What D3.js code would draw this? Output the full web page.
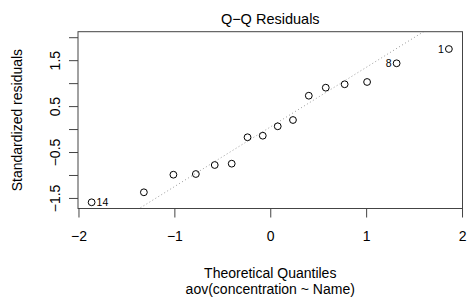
<!DOCTYPE html>
<html>
<head>
<meta charset="utf-8">
<script src="https://cdn.jsdelivr.net/npm/d3@7"></script>
<style>
  html, body { margin: 0; padding: 0; background: #fff; }
  svg { display: block; }
  text { font-family: "Liberation Sans", Arial, Helvetica, sans-serif; fill: #000; }
</style>
</head>
<body>
<script>
// ---- data ----
const theoreticalQuantiles = [-1.863, -1.318, -1.010, -0.776, -0.579, -0.402, -0.237, -0.078,
                               0.078, 0.237, 0.402, 0.579, 0.776, 1.010, 1.318, 1.863];
const standardizedResiduals = [-1.595, -1.377, -0.994, -0.979, -0.783, -0.754, -0.179, -0.145,
                               0.060, 0.197, 0.726, 0.901, 0.975, 1.025, 1.432, 1.743];
const pointLabels = ["14", "", "", "", "", "", "", "", "", "", "", "", "", "", "8", "1"];
const xTicks = [-2, -1, 0, 1, 2];
const xTickLabels = ["\u22122", "\u22121", "0", "1", "2"];
const yTicks = [-1.5, -1, -0.5, 0, 0.5, 1, 1.5, 2];
const yTickLabels = ["\u22121.5", "", "\u22120.5", "", "0.5", "", "1.5", ""];
const titleText = "Q\u2212Q Residuals";
const xTitle = "Theoretical Quantiles";
const subTitle = "aov(concentration ~ Name)";
const yTitle = "Standardized residuals";

// ---- layout ----
const W = 467, H = 298;
const box = { left: 78, right: 462.5, top: 31.7, bottom: 208.5 };

const x = d3.scaleLinear().domain([-2.005, 2.005]).range([box.left, box.right]);
const y = d3.scaleLinear().domain([-1.73, 2.12]).range([box.bottom, box.top]);

const svg = d3.select("body").append("svg").attr("width", W).attr("height", H);

svg.append("defs").append("clipPath").attr("id", "clip")
  .append("rect").attr("x", box.left).attr("y", box.top)
  .attr("width", box.right - box.left).attr("height", box.bottom - box.top);

// qqline through quartiles (as R's qqline)
const sorted = standardizedResiduals.slice().sort(d3.ascending);
const yq1 = d3.quantile(sorted, 0.25), yq3 = d3.quantile(sorted, 0.75);
const zq = 0.6744898;
const slope = (yq3 - yq1) / (2 * zq);
const intercept = yq1 + slope * zq;
const lx0 = -2.5, lx1 = 2.5;
svg.append("line")
  .attr("clip-path", "url(#clip)")
  .attr("x1", x(lx0)).attr("y1", y(intercept + slope * lx0))
  .attr("x2", x(lx1)).attr("y2", y(intercept + slope * lx1))
  .attr("stroke", "#9a9a9a").attr("stroke-width", 1)
  .attr("stroke-dasharray", "1,2.5");

// box
svg.append("rect")
  .attr("x", box.left).attr("y", box.top)
  .attr("width", box.right - box.left).attr("height", box.bottom - box.top)
  .attr("fill", "none").attr("stroke", "#444").attr("stroke-width", 1);

// points
const pts = theoreticalQuantiles.map((q, i) => ({ q, r: standardizedResiduals[i], lab: pointLabels[i] }));
svg.append("g").selectAll("circle").data(pts).join("circle")
  .attr("cx", d => x(d.q)).attr("cy", d => y(d.r)).attr("r", 3.4)
  .attr("fill", "none").attr("stroke", "#000").attr("stroke-width", 1);

// point labels (left for positive q, right for negative)
svg.append("g").selectAll("text").data(pts.filter(d => d.lab)).join("text")
  .attr("x", d => d.q < 0 ? x(d.q) + 5 : x(d.q) - 5)
  .attr("y", d => y(d.r) + 3.6)
  .attr("text-anchor", d => d.q < 0 ? "start" : "end")
  .style("font-size", "10.5px")
  .text(d => d.lab);

// x axis
const xAxis = d3.axisBottom(x).tickValues(xTicks).tickSize(9).tickSizeOuter(0)
  .tickFormat((d, i) => xTickLabels[i]);
const gx = svg.append("g").attr("transform", `translate(0,${box.bottom})`).call(xAxis);
gx.select(".domain").remove();
gx.selectAll(".tick line").attr("stroke", "#444");
gx.selectAll(".tick text").attr("y", 32.5).attr("dy", null)
  .style("font-size", "14px").attr("fill", "#000");

// y axis
const yAxis = d3.axisLeft(y).tickValues(yTicks).tickSize(9).tickSizeOuter(0)
  .tickFormat((d, i) => yTickLabels[i]);
const gy = svg.append("g").attr("transform", `translate(${box.left},0)`).call(yAxis);
gy.select(".domain").remove();
gy.selectAll(".tick line").attr("stroke", "#444");
gy.selectAll(".tick text")
  .attr("x", null).attr("dy", null).attr("y", null)
  .attr("text-anchor", "middle")
  .attr("transform", "translate(-18.5,0) rotate(-90)")
  .style("font-size", "14px").attr("fill", "#000");

// titles
const cx = (box.left + box.right) / 2;
svg.append("text").attr("x", cx).attr("y", 24).attr("text-anchor", "middle")
  .style("font-size", "14.5px").text(titleText);
svg.append("text").attr("x", cx).attr("y", 277.5).attr("text-anchor", "middle")
  .style("font-size", "14px").text(xTitle);
svg.append("text").attr("x", cx).attr("y", 294).attr("text-anchor", "middle")
  .style("font-size", "14px").text(subTitle);
svg.append("text")
  .attr("transform", `translate(21.5,${(box.top + box.bottom) / 2}) rotate(-90)`)
  .attr("text-anchor", "middle")
  .style("font-size", "14px").text(yTitle);
</script>
</body>
</html>
